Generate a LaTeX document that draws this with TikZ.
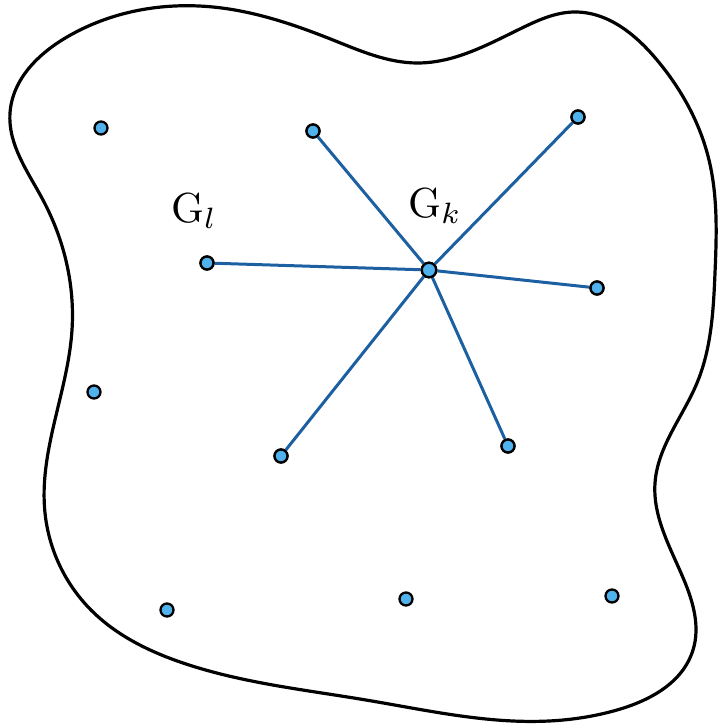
\documentclass[tikz,border=0pt]{standalone}
\usepackage{graphicx}
\usetikzlibrary{hobby}
\begin{document}
\begin{tikzpicture}[x=1pt,y=-1pt,
  pt/.style={circle,draw=black,line width=2.3pt,fill=ptfill,minimum size=13pt,inner sep=0pt},
  hub/.style={pt,minimum size=14.5pt},
  spoke/.style={draw=edgeblue,line width=3pt},
  lbl/.style={inner sep=0pt,anchor=base west}]
\definecolor{ptfill}{RGB}{80,178,236}
\definecolor{edgeblue}{RGB}{28,96,162}
\useasboundingbox (0,0) rectangle (717,725);
\draw[line width=3.2pt,use Hobby shortcut,closed=true]
(10,113) .. (67,37) .. (213,7) .. (333,40) .. (417,63) .. (524,27) .. (574,12) .. (657,60) .. (709,160) .. (715,273) .. (697,383) .. (655,483) .. (684,580) .. (693,650) .. (617,710) .. (549,721) .. (366,700) .. (183,663) .. (91,610) .. (45,513) .. (72,330) .. (43,200);
\node[hub] (hub) at (429,270) {};
\node[pt] (gl) at (207,263) {};
\node[pt] (tm) at (313,131) {};
\node[pt] (tr) at (578,117) {};
\node[pt] (r) at (597,288) {};
\node[pt] (bl) at (281,456) {};
\node[pt] (br) at (508,446) {};
\node[pt] (a1) at (101,128) {};
\node[pt] (a2) at (94,392) {};
\node[pt] (a3) at (167,610) {};
\node[pt] (a4) at (406,599) {};
\node[pt] (a5) at (612,596) {};
\foreach \n in {gl,tm,tr,r,bl,br}{\draw[spoke] (hub) -- (\n);}
\foreach \n in {gl,tm,tr,r,bl,br}{\node[pt] at (\n) {};}
\node[hub] at (hub) {};
\node[lbl] (Gl) at (171,222) {\scalebox{4.2}{$\mathrm{G}_l$}};
\node[lbl] (Gk) at (408,217) {\scalebox{4.2}{$\mathrm{G}_k$}};
\end{tikzpicture}
\end{document}
